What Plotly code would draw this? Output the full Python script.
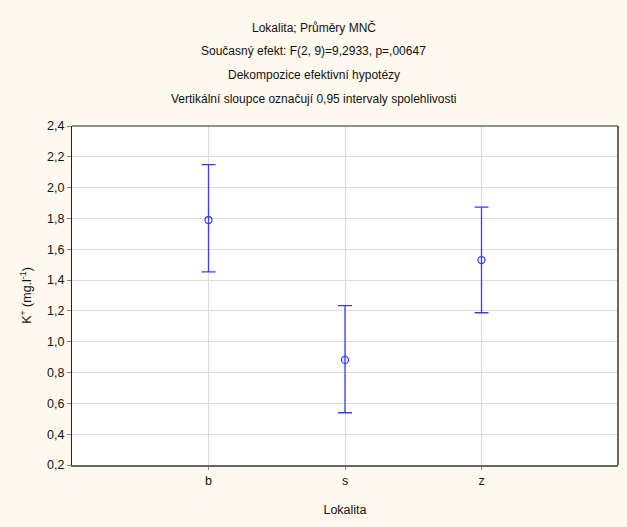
import plotly.graph_objects as go

categories = ["b", "s", "z"]
means = [1.790, 0.882, 1.530]
ci_high = [2.149, 1.234, 1.874]
ci_low = [1.453, 0.539, 1.188]

title_lines = [
    "Lokalita; Průměry MNČ",
    "Současný efekt: F(2, 9)=9,2933, p=,00647",
    "Dekompozice efektivní hypotézy",
    "Vertikální sloupce označují 0,95 intervaly spolehlivosti",
]
y_ticks = [0.2, 0.4, 0.6, 0.8, 1.0, 1.2, 1.4, 1.6, 1.8, 2.0, 2.2, 2.4]

FONT = "Liberation Sans Narrow, Arial Narrow, Liberation Sans, Arial, sans-serif"
BLUE = "#3a3aff"

err_plus = [h - m for h, m in zip(ci_high, means)]
err_minus = [m - l for m, l in zip(means, ci_low)]

fig = go.Figure()
fig.add_trace(go.Scatter(
    x=categories, y=means, mode="markers",
    marker=dict(symbol="circle-open", size=7, color=BLUE, line=dict(width=1.3, color=BLUE)),
    error_y=dict(type="data", symmetric=False, array=err_plus, arrayminus=err_minus,
                 color=BLUE, thickness=1.3, width=7),
    showlegend=False,
))

H, T, B = 527, 126, 62
ph = H - T - B
annotations = []
for i, t in enumerate(title_lines):
    py = 27 + 24 * i
    annotations.append(dict(text=t, x=(313.5 - 72) / 546, xref="paper",
                            y=(H - B - py) / ph, yref="paper",
                            showarrow=False, font=dict(family=FONT, size=12, color="#111"),
                            xanchor="center", yanchor="middle"))

fig.update_layout(
    width=627, height=527,
    margin=dict(l=72, r=9, t=T, b=B),
    paper_bgcolor="#fef9ee",
    plot_bgcolor="white",
    font=dict(family=FONT, size=12, color="#111"),
    annotations=annotations,
    xaxis=dict(
        type="category", categoryorder="array", categoryarray=categories,
        range=[-1, 3],
        showgrid=True, gridcolor="#dcdcdc", gridwidth=1,
        showline=True, linecolor="#666", linewidth=2,
        ticks="outside", ticklen=3, tickcolor="#888",
        title=dict(text="Lokalita", standoff=18, font=dict(family=FONT, size=12.5)),
        tickfont=dict(family=FONT, size=12.5),
        zeroline=False,
    ),
    yaxis=dict(
        range=[0.2, 2.4], tickvals=y_ticks,
        ticktext=[f"{v:.1f}".replace(".", ",") for v in y_ticks],
        showgrid=True, gridcolor="#dcdcdc", gridwidth=1,
        showline=True, linecolor="#222", linewidth=1,
        ticks="outside", ticklen=4, tickcolor="#888",
        title=dict(text="K<sup>+</sup> (mg.l<sup>-1</sup>)", standoff=12, font=dict(family=FONT, size=12.5)),
        tickfont=dict(family=FONT, size=12.5),
        zeroline=False,
    ),
    shapes=[
        dict(type="line", xref="paper", yref="paper", x0=0, x1=1, y0=1, y1=1,
             line=dict(color="#222", width=1)),
        dict(type="line", xref="paper", yref="paper", x0=1, x1=1, y0=0, y1=1,
             line=dict(color="#666", width=2)),
    ],
)

fig.write_html("out.html")
